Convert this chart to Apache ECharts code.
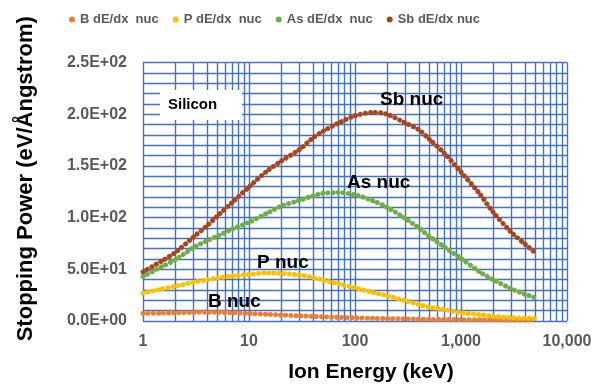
<!DOCTYPE html>
<html>
<head>
<meta charset="utf-8">
<script src="https://cdn.jsdelivr.net/npm/echarts@6/dist/echarts.min.js"></script>
<style>
  html, body { margin: 0; padding: 0; background: #fff; }
  #chart { width: 600px; height: 388px; }
</style>
</head>
<body>
<div id="chart"></div>
<script>
// ion energy in keV
const energy = [1, 1.5, 2, 3, 4, 5, 7, 10, 15, 20, 30, 40, 50, 70, 100, 150, 200, 300, 400, 500, 700, 1000, 1500, 2000, 3000, 4000, 5000];
// nuclear stopping power in silicon, eV/Angstrom
const bNuc = [7.3, 7.6, 7.9, 8.3, 8.5, 8.4, 8.0, 7.3, 6.5, 5.8, 5.0, 4.5, 4.1, 3.5, 3.0, 2.6, 2.3, 2.0, 1.8, 1.6, 1.4, 1.3, 1.2, 1.1, 1.0, 1.0, 0.9];
const pNuc = [27, 31, 33.5, 37.5, 39.7, 41.5, 43.5, 45, 46.5, 46, 44.5, 42, 39.5, 36, 32, 27.5, 24.5, 19.5, 16, 13.5, 11, 8, 6.2, 4.5, 3.2, 2.8, 2.5];
const asNuc = [43, 52.5, 59, 71, 77.6, 82, 89, 95.5, 104.5, 111, 116.7, 121, 123.5, 124.2, 122, 116, 110, 99, 90, 82, 71.5, 60.5, 47.5, 40, 31, 26, 22.5];
const sbNuc = [47.5, 58, 66, 81.3, 92, 101.3, 115, 129.7, 145.5, 154.5, 166, 177, 183.5, 191.5, 198.5, 201.8, 200, 191.4, 185, 176, 162, 144, 123, 105.5, 85.5, 74.5, 66];

const seriesNames = ['B dE/dx  nuc', 'P dE/dx  nuc', 'As dE/dx  nuc', 'Sb dE/dx nuc'];
const seriesColors = ['#ED7D31', '#FFC000', '#70AD47', '#A8451C'];
const seriesValues = [bNuc, pNuc, asNuc, sbNuc];

const gridColor = '#4472C4';
const labelColor = '#595959';
const font = 'Liberation Sans, Arial, sans-serif';

function sciLabel(v) {
  if (v === 0) return '0.0E+00';
  const e = Math.floor(Math.log10(v) + 1e-9);
  const m = v / Math.pow(10, e);
  return m.toFixed(1) + 'E+' + String(e).padStart(2, '0');
}

const chart = echarts.init(document.getElementById('chart'), null, {renderer: 'canvas'});

const series = seriesValues.map((vals, i) => ({
  name: seriesNames[i],
  type: 'line',
  smooth: 0.3,
  showSymbol: false,
  symbol: 'circle',
  color: seriesColors[i],
  lineStyle: {width: 5, type: [0.1, 5], cap: 'round', color: seriesColors[i]},
  data: energy.map((x, j) => [x, vals[j]]),
  z: 3
}));

chart.setOption({
  animation: false,
  backgroundColor: '#fff',
  textStyle: {fontFamily: font},
  legend: {
    top: 8,
    left: 64,
    icon: 'circle',
    itemWidth: 6,
    itemHeight: 6,
    itemGap: 14,
    itemTextGap: 5,
    textStyle: {color: labelColor, fontSize: 13, fontWeight: 'bold', fontFamily: font},
    data: seriesNames
  },
  grid: {left: 143, right: 33, top: 62.5, bottom: 62.4, containLabel: false},
  xAxis: {
    type: 'log',
    logBase: 10,
    min: 1,
    max: 10000,
    name: 'Ion Energy (keV)',
    nameLocation: 'middle',
    nameGap: 41,
    nameTextStyle: {color: '#000', fontSize: 21, fontWeight: 'bold', fontFamily: font, padding: [0, 0, 0, 32]},
    axisLine: {show: false},
    axisTick: {show: false},
    axisLabel: {
      color: labelColor, fontSize: 16, fontWeight: 'bold', margin: 13,
      formatter: v => Number(v).toLocaleString('en-US')
    },
    splitLine: {show: true, lineStyle: {color: gridColor, width: 1.4}},
    minorTick: {show: false, splitNumber: 9},
    minorSplitLine: {show: true, lineStyle: {color: gridColor, width: 1.4}}
  },
  yAxis: {
    type: 'value',
    min: 0,
    max: 250,
    interval: 50,
    name: 'Stopping Power (eV/Ångstrom)',
    nameLocation: 'middle',
    nameGap: 106,
    nameTextStyle: {color: '#000', fontSize: 22, fontWeight: 'bold', fontFamily: font, padding: [0, 0, 0, 26]},
    axisLine: {show: false},
    axisTick: {show: false},
    axisLabel: {color: labelColor, fontSize: 16, fontWeight: 'bold', margin: 16, formatter: sciLabel},
    splitLine: {show: true, lineStyle: {color: gridColor, width: 1.4}},
    minorTick: {show: false, splitNumber: 5},
    minorSplitLine: {show: true, lineStyle: {color: gridColor, width: 1.4}}
  },
  graphic: [
    {
      type: 'rect', left: 160, top: 90, z: 10,
      shape: {width: 82, height: 30},
      style: {fill: '#fff'}
    },
    {
      type: 'text', left: 168, top: 97, z: 11,
      style: {text: 'Silicon', fill: '#000', font: 'bold 15px ' + font}
    },
    {type: 'text', left: 380, top: 90, z: 11, style: {text: 'Sb nuc', fill: '#000', font: 'bold 19px ' + font}},
    {type: 'text', left: 347, top: 173, z: 11, style: {text: 'As nuc', fill: '#000', font: 'bold 19px ' + font}},
    {type: 'text', left: 257, top: 253, z: 11, style: {text: 'P nuc', fill: '#000', font: 'bold 19px ' + font}},
    {type: 'text', left: 208, top: 292, z: 11, style: {text: 'B nuc', fill: '#000', font: 'bold 19px ' + font}}
  ],
  series: series
});
</script>
</body>
</html>
